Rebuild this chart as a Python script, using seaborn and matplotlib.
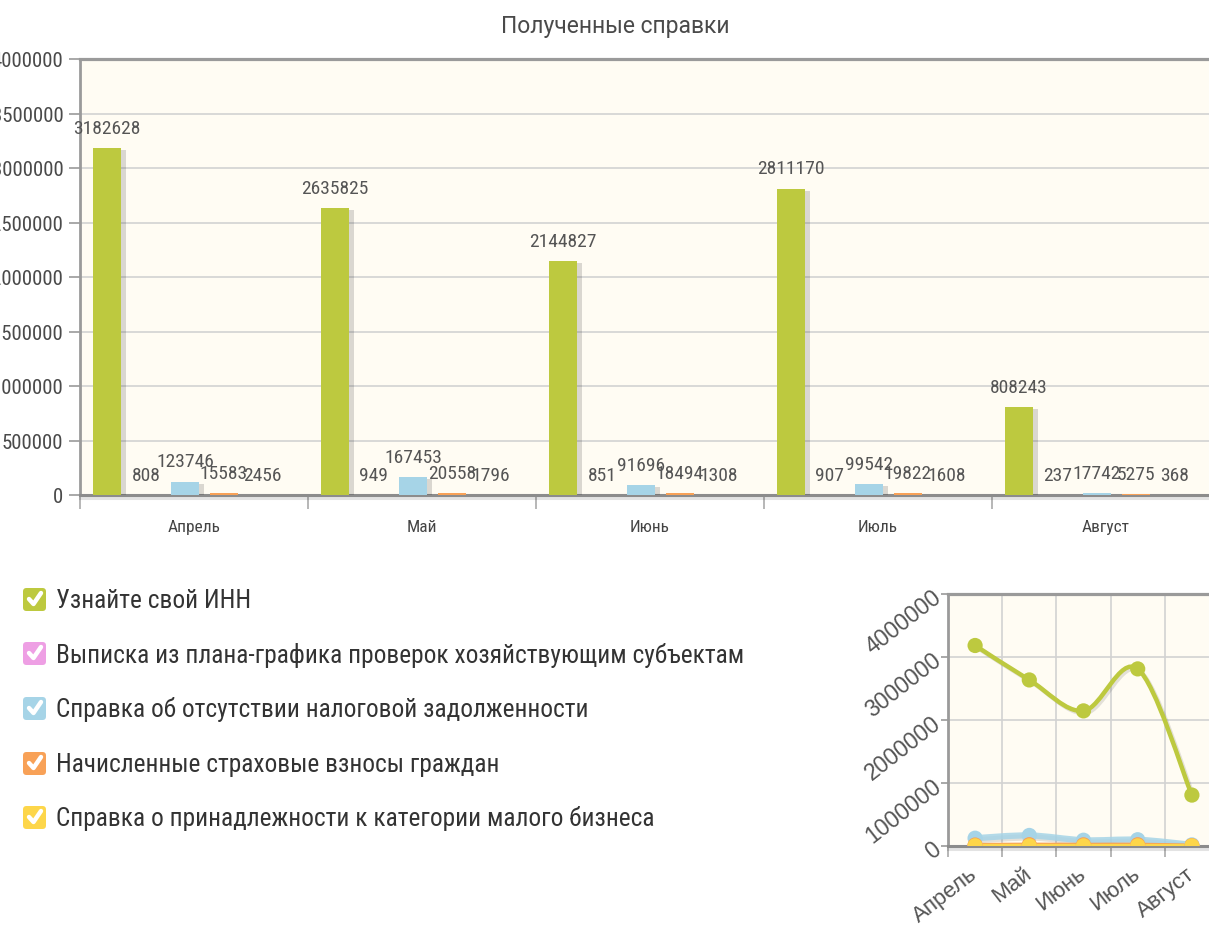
import numpy as np
import pandas as pd
import matplotlib
matplotlib.use("Agg")
import matplotlib.pyplot as plt
import matplotlib.patheffects as pe
import matplotlib.transforms as mtransforms
from matplotlib.path import Path
from matplotlib.patches import PathPatch, FancyBboxPatch
from matplotlib.lines import Line2D
import seaborn as sns

# ---- data -------------------------------------------------------------
months = ["Апрель", "Май", "Июнь", "Июль", "Август"]
series_names = [
    "Узнайте свой ИНН",
    "Выписка из плана-графика проверок хозяйствующим субъектам",
    "Справка об отсутствии налоговой задолженности",
    "Начисленные страховые взносы граждан",
    "Справка о принадлежности к категории малого бизнеса",
]
inn = [3182628, 2635825, 2144827, 2811170, 808243]
plan_extract = [808, 949, 851, 907, 237]
no_debt = [123746, 167453, 91696, 99542, 17742]
insurance = [15583, 20558, 18494, 19822, 5275]
small_business = [2456, 1796, 1308, 1608, 368]
series_values = [inn, plan_extract, no_debt, insurance, small_business]

colors = ["#BDC93F", "#EE9FE4", "#A6D4E7", "#F8A157", "#FDD64A"]
main_yticks = np.arange(0, 4000001, 500000)
inset_yticks = np.arange(0, 4000001, 1000000)
title = "Полученные справки"

df = pd.DataFrame({
    "month": [m for vals in series_values for m in months],
    "pos": [i for vals in series_values for i in range(len(months))],
    "series": [s for s, vals in zip(series_names, series_values) for _ in vals],
    "value": [v for vals in series_values for v in vals],
})

# ---- style ------------------------------------------------------------
sns.set_theme(style="white")
NARROW = ["Roboto Condensed", "DejaVu Sans"]
REGULAR = ["Liberation Sans", "DejaVu Sans"]
TITLE_FONT = ["Roboto", "DejaVu Sans"]
plt.rcParams["font.family"] = NARROW

W, H = 1209, 929
fig = plt.figure(figsize=(W / 100, H / 100), dpi=100)
fig.patch.set_facecolor("white")
PX = mtransforms.Affine2D().scale(1 / 100) + fig.dpi_scale_trans  # pixel coords


def px_axes(left, top, right, bottom):
    return fig.add_axes([left / W, 1 - bottom / H, (right - left) / W, (bottom - top) / H])


def frame(ax):
    ax.set_facecolor("#FFFCF3")
    for side in ("top", "left", "bottom", "right"):
        ax.spines[side].set_visible(True)
    ax.spines["top"].set_color("#9A9A9A")
    ax.spines["top"].set_linewidth(2.3)
    ax.spines["left"].set_color("#9A9A9A")
    ax.spines["left"].set_linewidth(2.0)
    ax.spines["bottom"].set_color("#8C8C8C")
    ax.spines["bottom"].set_linewidth(2.2)
    ax.spines["bottom"].set_path_effects(
        [pe.SimpleLineShadow(offset=(0, -2), shadow_color="k", alpha=0.12), pe.Normal()])
    ax.spines["right"].set_color("#9A9A9A")
    ax.grid(True, color="#D2D2D2", lw=1.2)
    ax.set_axisbelow(True)


fig.text(615 / W, 1 - 27 / H, title, ha="center", va="center",
         fontsize=16.5, color="#4A4A4A", family=TITLE_FONT)

# ---- main bar chart ---------------------------------------------------
ax = px_axes(80, 60, 1220, 496)
frame(ax)
sns.barplot(data=df, x="month", y="value", hue="series", order=months,
            hue_order=series_names, palette=colors, saturation=1,
            width=0.855, gap=0.28, errorbar=None, legend=False, ax=ax,
            linewidth=0, zorder=3)
for p in ax.patches:
    p.set_x(p.get_x() - 0.04)
    p.set_path_effects([pe.SimplePatchShadow(offset=(3.5, -1.5), shadow_rgbFace="k", alpha=0.16),
                        pe.Normal()])
for cont, vals in zip(ax.containers, series_values):
    ax.bar_label(cont, labels=[str(v) for v in vals], padding=8,
                 fontsize=14, color="#555555")

ax.set_xlim(-0.5, 4.5)
ax.set_ylim(0, 4000000)
ax.set_yticks(main_yticks)
ax.set_yticklabels([str(int(v)) for v in main_yticks])
ax.set_xticks(np.arange(-0.5, 5, 1))
ax.set_xticklabels([])
ax.set_xticks(range(len(months)), minor=True)
ax.set_xticklabels(months, minor=True)
ax.set_xlabel("")
ax.set_ylabel("")
ax.tick_params(axis="y", which="major", left=True, length=8, width=1.2, color="#999999",
               pad=4, labelsize=15, labelcolor="#4A4A4A")
ax.tick_params(axis="x", which="major", bottom=True, length=10, width=1.2, color="#AAAAAA")
ax.tick_params(axis="x", which="minor", bottom=True, length=0, pad=17,
               labelsize=12.5, labelcolor="#444444")

# ---- legend -----------------------------------------------------------
row_y = [600, 654, 709, 764, 818]
for name, col, y in zip(series_names, colors, row_y):
    box = FancyBboxPatch((23, H - y - 12), 23, 23,
                         boxstyle="round,pad=0,rounding_size=3.5",
                         facecolor=col, edgecolor="none", transform=PX)
    fig.add_artist(box)
    fig.add_artist(Line2D([29, 33.5, 41], [H - y, H - y - 5, H - y + 6],
                          color="white", lw=3.2, solid_capstyle="round",
                          solid_joinstyle="round", transform=PX))
    fig.text(56 / W, 1 - (y + 1) / H, name, ha="left", va="center",
             fontsize=18.3, color="#333333")

# ---- small line chart -------------------------------------------------
ax2 = px_axes(948, 595, 1219, 847)
frame(ax2)


def smooth_path(xs, ys):
    """Catmull-Rom curve through the points as cubic Bezier segments."""
    pts = list(zip(xs, ys))
    verts, codes = [pts[0]], [Path.MOVETO]
    n = len(pts)
    for i in range(n - 1):
        p0 = pts[i - 1] if i > 0 else pts[i]
        p1, p2 = pts[i], pts[i + 1]
        p3 = pts[i + 2] if i + 2 < n else p2
        c1 = (p1[0] + (p2[0] - p0[0]) / 6, p1[1] + (p2[1] - p0[1]) / 6)
        c2 = (p2[0] - (p3[0] - p1[0]) / 6, p2[1] - (p3[1] - p1[1]) / 6)
        verts += [c1, c2, p2]
        codes += [Path.CURVE4] * 3
    return Path(verts, codes)


line_widths = [3.2, 3.0, 4.5, 3.0, 3.0]
line_alpha = [1, 1, 0.85, 1, 1]
for k, (vals, col) in enumerate(zip(series_values, colors)):
    path = smooth_path(list(range(len(months))), vals)
    ax2.add_patch(PathPatch(path, facecolor="none", edgecolor=col, lw=line_widths[k],
                            alpha=line_alpha[k], zorder=3 + k * 0.1,
                            path_effects=[pe.SimpleLineShadow(offset=(1.5, -1.5), shadow_color="k",
                                                              alpha=0.12), pe.Normal()]))
sns.scatterplot(data=df, x="pos", y="value", hue="series", hue_order=series_names,
                palette=colors, s=120, linewidth=0, legend=False, ax=ax2, zorder=5)

ax2.set_xlim(-0.5, 4.5)
ax2.set_ylim(0, 4000000)
ax2.set_yticks(inset_yticks)
ax2.set_yticklabels([str(int(v)) for v in inset_yticks], rotation=38,
                    ha="right", va="center", rotation_mode="anchor", family=REGULAR)
ax2.set_xticks(np.arange(-0.5, 5, 1))
ax2.set_xticklabels([])
ax2.set_xticks(range(len(months)), minor=True)
ax2.set_xticklabels(months, minor=True, rotation=38, ha="right", va="center",
                    rotation_mode="anchor", family=REGULAR)
ax2.set_xlabel("")
ax2.set_ylabel("")
ax2.tick_params(axis="y", which="major", left=True, length=5, width=1.2, color="#999999",
                pad=2, labelsize=16.5, labelcolor="#555555")
ax2.tick_params(axis="x", which="major", bottom=True, length=8, width=1.2, color="#AAAAAA")
ax2.tick_params(axis="x", which="minor", bottom=True, length=0, pad=18,
                labelsize=16, labelcolor="#555555")

fig.savefig("out.png", dpi=100, facecolor="white")
